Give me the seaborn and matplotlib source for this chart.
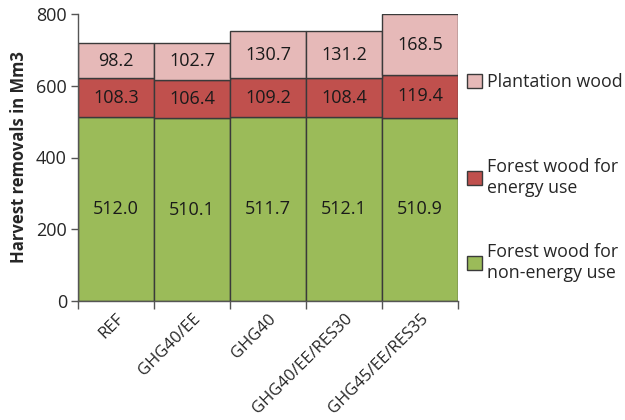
import numpy as np
import pandas as pd
import matplotlib.pyplot as plt
import seaborn as sns

scenarios = ['REF', 'GHG40/EE', 'GHG40', 'GHG40/EE/RES30', 'GHG45/EE/RES35']
non_energy = [512.0, 510.1, 511.7, 512.1, 510.9]
energy = [108.3, 106.4, 109.2, 108.4, 119.4]
plantation = [98.2, 102.7, 130.7, 131.2, 168.5]

sns.set_style('white')
plt.rcParams['font.family'] = ['Open Sans', 'DejaVu Sans']

df = pd.DataFrame({'scenario': scenarios, 'non_energy': non_energy,
                   'energy': energy, 'plantation': plantation})

fig = plt.figure(figsize=(6.25, 4.2), dpi=100)
ax = fig.add_axes([0.1248, 0.2833, 0.608, 0.6834])

edge = '#3a3a3a'
series = [('non_energy', 'Forest wood for\nnon-energy use', '#9BBB59'),
          ('energy', 'Forest wood for\nenergy use', '#C0504D'),
          ('plantation', 'Plantation wood', '#E6B9B8')]
bottom = np.zeros(len(scenarios))
for col, label, color in series:
    sns.barplot(data=df, x='scenario', y=col, color=color, width=1.0, saturation=1,
                bottom=bottom, edgecolor=edge, linewidth=1.0, label=label,
                ax=ax, legend=False)
    for i, v in enumerate(df[col]):
        ax.text(i, bottom[i] + v / 2, f'{v:.1f}', ha='center', va='center',
                fontsize=13, color='#1a1a1a')
    bottom = bottom + df[col].values

ax.set_xlim(-0.5, len(scenarios) - 0.5)
ax.set_ylim(0, 800)
ax.set_yticks([0, 200, 400, 600, 800])
ax.tick_params(axis='y', labelsize=13, length=5, width=1, color='#555555', left=True, pad=3)
ax.set_xticks(range(len(scenarios)))
ax.set_xticklabels(scenarios, rotation=45, ha='right', rotation_mode='anchor', fontsize=12)
ax.tick_params(axis='x', length=0, pad=7)
ax.set_xticks(np.arange(-0.5, len(scenarios)), minor=True)
ax.tick_params(axis='x', which='minor', length=6, width=1, color='#555555', bottom=True)
ax.set_xlabel('')
ax.set_ylabel('Harvest removals in Mm3', fontsize=12, fontweight='bold', labelpad=6)

for s in ['top', 'right']:
    ax.spines[s].set_visible(False)
for s in ['left', 'bottom']:
    ax.spines[s].set_color('#555555')
    ax.spines[s].set_linewidth(1)

# legend entries placed individually (Excel-like spacing)
handles, labels = ax.get_legend_handles_labels()
legend_tops = [0.794, 0.498, 0.202]
for h, lab, ytop in zip(handles[::-1], labels[::-1], legend_tops):
    leg = ax.legend([h], [lab], loc='upper left', bbox_to_anchor=(1.025, ytop),
                    frameon=False, fontsize=12.8, handlelength=0.8, handleheight=0.8,
                    handletextpad=0.3, borderaxespad=0, borderpad=0)
    ax.add_artist(leg)
ax.legend_ = None

fig.savefig('out.png', dpi=100)
